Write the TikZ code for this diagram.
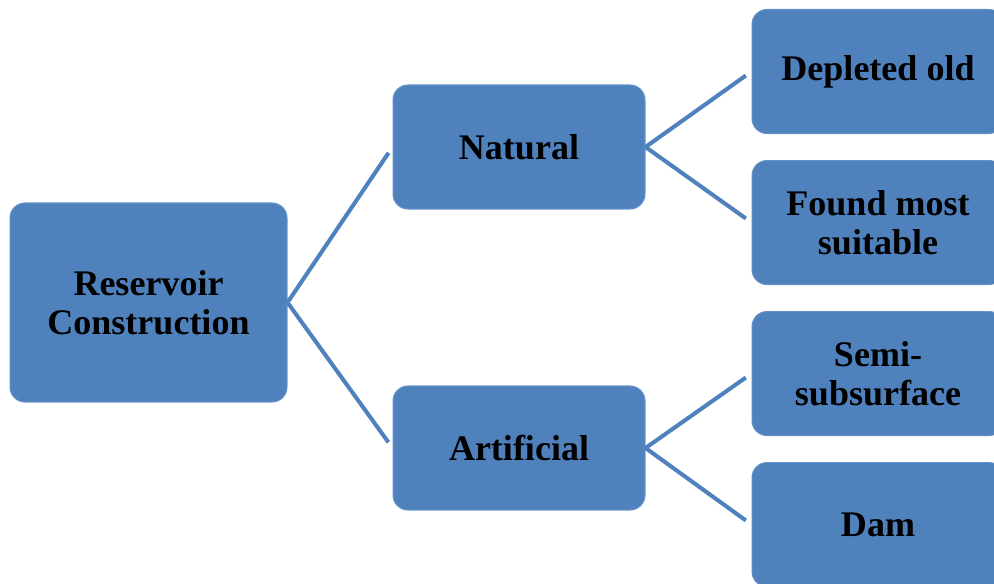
\documentclass[tikz,border=0pt]{standalone}
\usepackage{fontspec}
\setmainfont{Liberation Serif}
\usetikzlibrary{positioning}
\definecolor{boxblue}{RGB}{79,129,189}
\definecolor{boxedge}{RGB}{98,145,200}

\tikzset{
  box/.style={rectangle,rounded corners=0.3cm,fill=boxblue,draw=boxedge,line width=0.6pt,
    align=center,inner sep=0pt,font=\fontsize{20.5}{22.5}\selectfont\bfseries},
  big/.style={box,minimum width=5.54cm,minimum height=3.98cm},
  small/.style={box,minimum width=5.04cm,minimum height=2.48cm},
  link/.style={boxblue,line width=2.3pt,shorten >=0.14cm}
}

\begin{document}
\begin{tikzpicture}[x=0.02cm,y=-0.02cm,node distance=0cm]
\useasboundingbox (0,0) rectangle (994,584);
\clip (0,0) rectangle (994,584);
\node[big] (0) at (148.5,302.5) {Reservoir\\Construction};
\node[small] (1) at (519,147) {Natural};
\node[small] (2) at (519,448) {Artificial};
\node[small] (3) at (878,71.5) {Depleted old};
\node[small] (4) [below=of 3,yshift=-0.52cm] {Found most\\suitable};
\node[small] (5) [below=of 4,yshift=-0.52cm] {Semi-\\subsurface};
\node[small] (6) [below=of 5,yshift=-0.52cm] {Dam};
\draw[link] (0.east) to (1.west);
\draw[link] (0.east) to (2.west);
\draw[link] (1.east) to (3.west);
\draw[link] (1.east) to (4.west);
\draw[link] (2.east) to (5.west);
\draw[link] (2.east) to (6.west);
\end{tikzpicture}
\end{document}
